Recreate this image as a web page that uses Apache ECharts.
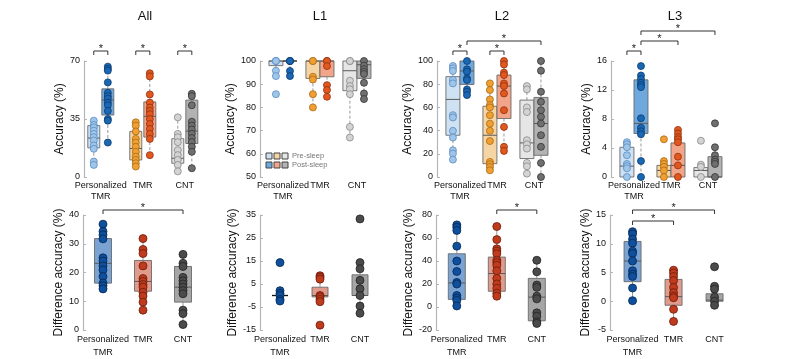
<!DOCTYPE html>
<html>
<head>
<meta charset="utf-8">
<script src="https://cdn.jsdelivr.net/npm/echarts@6/dist/echarts.min.js"></script>
<style>
  html, body { margin: 0; padding: 0; background: #fff; }
  #chart { width: 793px; height: 359px; }
</style>
</head>
<body>
<div id="chart"></div>
<script>
const FONT = 'Liberation Sans, Arial, sans-serif'

const groupNames = ['Personalized\nTMR', 'TMR', 'CNT']
const panelTitles = ['All', 'L1', 'L2', 'L3']

// y tick labels
const ticksAll = [0, 35, 70]
const ticksL1 = [50, 60, 70, 80, 90, 100]
const ticksL2 = [0, 20, 40, 60, 80, 100]
const ticksL3 = [0, 4, 8, 12, 16]
const ticksDiffAll = [0, 10, 20, 30, 40]
const ticksDiffL1 = [-15, -5, 5, 15, 25, 35]
const ticksDiffL2 = [-20, 0, 20, 40, 60, 80]
const ticksDiffL3 = [-5, 0, 5, 10, 15]

// accuracy per subject, [Personalized, TMR, CNT]
const allPre = [
  [34, 31.4, 30, 28, 26, 24, 22, 19, 17, 9.3, 7.3],
  [33, 31, 27.5, 23, 20.8, 18.2, 15.2, 12.3, 10.3, 8.3, 6.3],
  [36, 26, 24, 21, 16.2, 13.2, 10.3, 7.3, 3.4]
]
const allPost = [
  [66.6, 65.2, 64.2, 57.1, 50.8, 48.8, 47.2, 44.9, 43.3, 39.9, 35, 34, 20.8],
  [62.6, 60.7, 49.8, 44.9, 41.9, 39.9, 37.9, 35, 32, 29, 26, 23, 13.2],
  [50.2, 48.8, 43.3, 33.4, 31, 28.7, 26.1, 23.5, 21.1, 18.2, 15.2, 5.3]
]
const l1Pre = [
  [100, 100, 100, 95.8, 93.5, 85.7],
  [100, 100, 93.2, 92, 85.7, 80],
  [100, 100, 91.5, 89.2, 87.8, 85.7, 71.6, 67]
]
const l1Post = [
  [100, 100, 100, 95.7, 93.5],
  [100, 100, 97.8, 89.6, 87.5, 84.6],
  [100, 98, 96.5, 95.4, 94.4, 90.6, 86, 83.6]
]
const l2Pre = [
  [95.7, 93.7, 91.4, 83.6, 80.7, 53.3, 51.3, 39.8, 34, 23, 20.2, 15],
  [80.7, 75, 66.9, 62, 60, 53.3, 46, 39.8, 31, 13, 11, 8.6, 5.8],
  [78.4, 75.5, 60, 56, 31.7, 28.2, 24.5, 12.1, 9.2, 2.9]
]
const l2Post = [
  [100, 92.8, 90.8, 85, 83.6, 75.5, 73.5, 70.6],
  [100, 97, 90, 87.9, 80.7, 78.4, 72, 57.6, 43.2, 26, 22.5],
  [100, 91.6, 73.5, 64.8, 57.6, 51.9, 46.1, 36, 26, 12.1, 0]
]
const l3Pre = [
  [4.8, 4.5, 4.1, 3, 1.8, 1.5, 1.2, 0],
  [5.2, 2.2, 1.8, 1.4, 0.9, 0],
  [5, 1.7, 1.4, 0]
]
const l3Post = [
  [15.3, 14, 13.5, 13, 12.7, 12.4, 8.1, 6.8, 6.3, 5.9, 2.2, 0],
  [6.5, 6, 5.5, 5.2, 4.8, 2.8, 1.6, 0],
  [7.4, 4.1, 3, 2.4, 2.1, 1.8, 0]
]

// box stats [low whisker, q1, median, q3, high whisker]
const allPreBox = [[7.3, 17.6, 23.5, 31, 34], [6.3, 10.3, 17.2, 27.5, 33], [3.4, 8.3, 11.3, 23.1, 36]]
const allPostBox = [[20.8, 37.4, 46.4, 53.2, 66.6], [13.2, 24.1, 36.6, 45.3, 62.6], [5.3, 20.2, 27.7, 46.4, 50.2]]
const l1PreBox = [[93.5, 98, 100, 100, 100], [80, 92.5, 100, 100, 100], [67, 87.2, 95.8, 100, 100]]
const l1PostBox = [[93.5, 100, 100, 100, 100], [84.6, 93.2, 100, 100, 100], [83.6, 92.5, 98.4, 100, 100]]
const l2PreBox = [[15, 36, 66.9, 86.5, 95.7], [5.8, 11.5, 36, 61, 80.7], [2.9, 15.9, 29.4, 66.3, 78.4]]
const l2PostBox = [[70.6, 79.8, 91.4, 100, 100], [22.5, 50.4, 78.4, 87.9, 100], [0, 18.7, 46.1, 68.6, 100]]
const l3PreBox = [[0, 0, 1.5, 4.1, 4.8], [0, 0, 0.9, 1.6, 2.2], [0, 0, 0.9, 1.3, 1.7]]
const l3PostBox = [[0, 6, 7.4, 13.4, 15.3], [0, 0, 1.6, 4.7, 6.5], [0, 0, 0, 2.8, 4.1]]

// difference accuracy (post - pre)
const diffAll = [
  [36.8, 34.3, 33.1, 31.7, 25.1, 24, 22.3, 20.9, 18.6, 16.3, 15.4, 14.3],
  [31.8, 28, 26.6, 22.3, 17.9, 16.9, 15.8, 14.9, 13.1, 11.8, 9.7, 6.9],
  [26.3, 23.2, 22.1, 18.3, 17.1, 16, 14.9, 13.7, 12.6, 6.9, 5.7, 1.9]
]
const diffL1 = [
  [14.3, 2.1, 0.9, 0, -1.7, -2.4],
  [8.6, 7.9, 7.1, 0, -0.6, -1.7, -2.7, -12.9],
  [33.3, 14.3, 11.6, 6.6, 2.9, 0, -4.6, -7.7]
]
const diffL2 = [
  [71.4, 69.4, 66.6, 52.9, 40, 30.9, 21.4, 20, 10, 7.7, 5.7, 0.9],
  [70, 58.6, 50.6, 48.6, 46.3, 40.6, 38.6, 36.3, 31.4, 24.9, 20, 16.3, 12, 9.4],
  [40.6, 30.6, 19.1, 17.1, 9.4, 7.1, -5.1, -8, -12.9, -14.3]
]
const diffL3 = [
  [12.1, 11.7, 10.8, 10.1, 8.7, 8.3, 7, 5.3, 4.7, 4.3, 2.3, 0.1],
  [5.4, 4.9, 4.3, 3.6, 2.4, 1.5, 0.9, 0.6, -1.4, -3.5],
  [6, 2.6, 2.1, 0.7, 0, -0.7]
]
const diffAllBox = [[14.3, 16.3, 23.2, 31.8, 36.8], [6.9, 13.5, 16.9, 24.2, 31.8], [1.9, 9.7, 14.9, 22.1, 26.3]]
const diffL1Box = [[0, 0, 0, 0, 0], [-2.7, -0.6, 0, 3.6, 8.6], [-7.7, 0, 0, 9, 14.3]]
const diffL2Box = [[0.9, 6.6, 20.9, 46.3, 71.4], [9.4, 13.7, 29.1, 43.4, 70], [-14.3, -12, 8.6, 24.9, 40.6]]
const diffL3Box = [[0.1, 3.4, 7, 10.4, 12.1], [-3.5, -0.7, 0.8, 3.8, 5.4], [-0.7, 0, 0.2, 1.3, 2.6]]

// significance: top row [group1, phase1, group2, phase2, level] (phase -1 pre, 1 post)
const allSig = [[1, -1, 1, 1, 0], [2, -1, 2, 1, 0], [3, -1, 3, 1, 0]]
const l1Sig = []
const l2Sig = [[1, -1, 1, 1, 0], [2, -1, 2, 1, 0], [1, 1, 3, 1, 1]]
const l3Sig = [[1, -1, 1, 1, 0], [1, 1, 2, 1, 1], [1, 1, 3, 1, 2]]
// bottom row [group1, group2, level]
const diffAllSig = [[1, 3, 1]]
const diffL1Sig = []
const diffL2Sig = [[2, 3, 1]]
const diffL3Sig = [[1, 2, 0], [1, 3, 1]]

const preColors = [
  { box: '#cfe2f3', pt: '#9fc5e8', ptLine: '#5b8cc2' },
  { box: '#f6d5a5', pt: '#f0a033', ptLine: '#a96a14' },
  { box: '#e6e6e6', pt: '#d3d3d3', ptLine: '#888888' }
]
const postColors = [
  { box: '#6fa8dc', pt: '#1a67b3', ptLine: '#0b3b6e' },
  { box: '#f3a589', pt: '#e2571e', ptLine: '#8e3210' },
  { box: '#b3b3b3', pt: '#6f6f6f', ptLine: '#333333' }
]
const diffColors = [
  { box: '#7aa3d4', pt: '#0e4f9e', ptLine: '#06284f' },
  { box: '#e19b8d', pt: '#c03a1d', ptLine: '#6a1d0b' },
  { box: '#a6a6a6', pt: '#4b4b4b', ptLine: '#222222' }
]

const topLayout = [
  { left: 84, xMin: 0.6, unit: 42, off: 0.167, half: 6 },
  { left: 260, xMin: 0.38, unit: 37, off: 0.19, half: 7 },
  { left: 437, xMin: 0.38, unit: 37, off: 0.19, half: 7 },
  { left: 611, xMin: 0.38, unit: 37, off: 0.19, half: 7 }
]
const bottomLayout = [
  { left: 83, xMin: 0.5, unit: 40, half: 8.5 },
  { left: 260, xMin: 0.5, unit: 40, half: 8 },
  { left: 436, xMin: 0.48, unit: 40, half: 8.5 },
  { left: 610, xMin: 0.45, unit: 41, half: 8.5 }
]
const X_MAX = 3.5

function boxRenderer(colors, half, dash, cap) {
  return function (params, api) {
    const g = params.dataIndex
    const x = api.value(0)
    const y = v => api.coord([x, v])[1]
    const cx = api.coord([x, 0])[0]
    const lo = y(api.value(1)), q1 = y(api.value(2)), md = y(api.value(3))
    const q3 = y(api.value(4)), hi = y(api.value(5))
    const wStyle = { stroke: '#9a9a9a', lineWidth: 1, lineDash: dash }
    const cStyle = { stroke: '#555', lineWidth: 1 }
    const children = []
    if (hi < q3 - 0.5) {
      children.push({ type: 'line', shape: { x1: cx, y1: q3, x2: cx, y2: hi }, style: wStyle })
      children.push({ type: 'line', shape: { x1: cx - cap, y1: hi, x2: cx + cap, y2: hi }, style: cStyle })
    }
    if (lo > q1 + 0.5) {
      children.push({ type: 'line', shape: { x1: cx, y1: q1, x2: cx, y2: lo }, style: wStyle })
      children.push({ type: 'line', shape: { x1: cx - cap, y1: lo, x2: cx + cap, y2: lo }, style: cStyle })
    }
    if (q1 - q3 > 0.5) {
      children.push({
        type: 'rect',
        shape: { x: cx - half, y: q3, width: half * 2, height: q1 - q3 },
        style: { fill: colors[g].box, stroke: '#6a6a6a', lineWidth: 0.9 }
      })
      children.push({ type: 'line', shape: { x1: cx - half, y1: md, x2: cx + half, y2: md }, style: { stroke: '#5a5a5a', lineWidth: 1 } })
    } else {
      children.push({ type: 'line', shape: { x1: cx - half, y1: md, x2: cx + half, y2: md }, style: { stroke: '#111', lineWidth: 1.3 } })
    }
    return { type: 'group', children }
  }
}

function bracketRenderer(base, step) {
  return function (params, api) {
    const x1 = api.coord([api.value(0), 0])[0]
    const x2 = api.coord([api.value(1), 0])[0]
    const y = params.coordSys.y + base - api.value(2) * step
    return {
      type: 'group',
      children: [
        { type: 'polyline', shape: { points: [[x1, y + 4], [x1, y], [x2, y], [x2, y + 4]] }, style: { stroke: '#333', fill: null, lineWidth: 1 } },
        { type: 'text', x: (x1 + x2) / 2, y: y - 8, style: { text: '*', align: 'center', verticalAlign: 'top', fill: '#222', font: '11px ' + FONT } }
      ]
    }
  }
}

function boxSeries(i, boxes, xs, colors, half, dash, cap) {
  return {
    type: 'custom', xAxisIndex: i, yAxisIndex: i, clip: false, z: 2, silent: true,
    renderItem: boxRenderer(colors, half, dash, cap),
    encode: { x: 0, y: [1, 2, 3, 4, 5] },
    data: boxes.map((b, g) => [xs[g]].concat(b))
  }
}

function pointSeries(i, lists, xs, colors, size) {
  const data = []
  lists.forEach((list, g) => {
    list.forEach(v => {
      data.push({ value: [xs[g], v], itemStyle: { color: colors[g].pt, borderColor: colors[g].ptLine } })
    })
  })
  return {
    type: 'scatter', xAxisIndex: i, yAxisIndex: i, z: 3, silent: true,
    symbolSize: size, itemStyle: { borderWidth: 0.8, opacity: 1 }, data
  }
}

function sigSeries(i, data, base, step) {
  return {
    type: 'custom', xAxisIndex: i, yAxisIndex: i, clip: false, z: 4, silent: true,
    renderItem: bracketRenderer(base, step),
    encode: { x: [0, 1] },
    data
  }
}

const grids = []
const xAxes = []
const yAxes = []
const series = []

function addAxes(i, layout, top, height, ticks, yName, lineHeight) {
  grids.push({ left: layout.left, top, width: (X_MAX - layout.xMin) * layout.unit, height })
  xAxes.push({
    gridIndex: i, type: 'value', min: layout.xMin, max: X_MAX,
    axisLine: { show: false }, axisTick: { show: false }, splitLine: { show: false },
    axisLabel: {
      customValues: [1, 2, 3], formatter: v => groupNames[Math.round(v) - 1],
      fontFamily: FONT, fontSize: 9, color: '#111', margin: 3, lineHeight
    }
  })
  yAxes.push({
    gridIndex: i, type: 'value', min: ticks[0], max: ticks[ticks.length - 1],
    name: yName, nameLocation: 'middle', nameGap: 18,
    nameTextStyle: { fontFamily: FONT, fontSize: 12, color: '#111' },
    axisLine: { show: true, lineStyle: { color: '#b5b5b5', width: 1.2 } },
    axisTick: { show: true, inside: true, length: 3, customValues: ticks, lineStyle: { color: '#b5b5b5' } },
    axisLabel: { customValues: ticks, fontFamily: FONT, fontSize: 9, color: '#111', margin: 4 },
    splitLine: { show: false }
  })
}

const topPanels = [
  { ticks: ticksAll, pre: allPre, post: allPost, preBox: allPreBox, postBox: allPostBox, sig: allSig },
  { ticks: ticksL1, pre: l1Pre, post: l1Post, preBox: l1PreBox, postBox: l1PostBox, sig: l1Sig },
  { ticks: ticksL2, pre: l2Pre, post: l2Post, preBox: l2PreBox, postBox: l2PostBox, sig: l2Sig },
  { ticks: ticksL3, pre: l3Pre, post: l3Post, preBox: l3PreBox, postBox: l3PostBox, sig: l3Sig }
]
const bottomPanels = [
  { ticks: ticksDiffAll, vals: diffAll, box: diffAllBox, sig: diffAllSig },
  { ticks: ticksDiffL1, vals: diffL1, box: diffL1Box, sig: diffL1Sig },
  { ticks: ticksDiffL2, vals: diffL2, box: diffL2Box, sig: diffL2Sig },
  { ticks: ticksDiffL3, vals: diffL3, box: diffL3Box, sig: diffL3Sig }
]

topPanels.forEach((p, k) => {
  const L = topLayout[k]
  const i = grids.length
  addAxes(i, L, 61, 116, p.ticks, 'Accuracy (%)', 11)
  const xPre = [1, 2, 3].map(g => g - L.off)
  const xPost = [1, 2, 3].map(g => g + L.off)
  series.push(boxSeries(i, p.preBox, xPre, preColors, L.half, [3, 2], 3))
  series.push(boxSeries(i, p.postBox, xPost, postColors, L.half, [3, 2], 3))
  series.push(pointSeries(i, p.pre, xPre, preColors, 7))
  series.push(pointSeries(i, p.post, xPost, postColors, 7))
  if (p.sig.length) {
    series.push(sigSeries(i, p.sig.map(s => [s[0] + s[1] * L.off, s[2] + s[3] * L.off, s[4]]), -10, 10))
  }
})

bottomPanels.forEach((p, k) => {
  const L = bottomLayout[k]
  const i = grids.length
  addAxes(i, L, 215, 117, p.ticks, 'Difference accuracy (%)', 13)
  const xs = [1, 2, 3]
  series.push(boxSeries(i, p.box, xs, diffColors, L.half, null, 4))
  series.push(pointSeries(i, p.vals, xs, diffColors, 8))
  if (p.sig.length) {
    series.push(sigSeries(i, p.sig, 6, 11))
  }
})

const titleX = [140, 315, 497, 670]
const legendRows = [
  { label: 'Pre-sleep', colors: preColors, y: 153 },
  { label: 'Post-sleep', colors: postColors, y: 162 }
]
const graphic = []
legendRows.forEach(r => {
  r.colors.forEach((c, g) => {
    graphic.push({ type: 'rect', shape: { x: 266 + g * 8, y: r.y, width: 6, height: 6 }, style: { fill: c.box, stroke: '#444', lineWidth: 1 } })
  })
  graphic.push({ type: 'text', x: 292, y: r.y + 3, style: { text: r.label, verticalAlign: 'middle', fill: '#777', font: '7.5px ' + FONT } })
})

const chart = echarts.init(document.getElementById('chart'))
chart.setOption({
  animation: false,
  backgroundColor: '#fff',
  title: panelTitles.map((t, k) => ({
    text: t, left: titleX[k], top: 5, textAlign: 'center',
    textStyle: { fontFamily: FONT, fontSize: 13, fontWeight: 'normal', color: '#111' }
  })),
  grid: grids,
  xAxis: xAxes,
  yAxis: yAxes,
  graphic,
  series
})
</script>
</body>
</html>
